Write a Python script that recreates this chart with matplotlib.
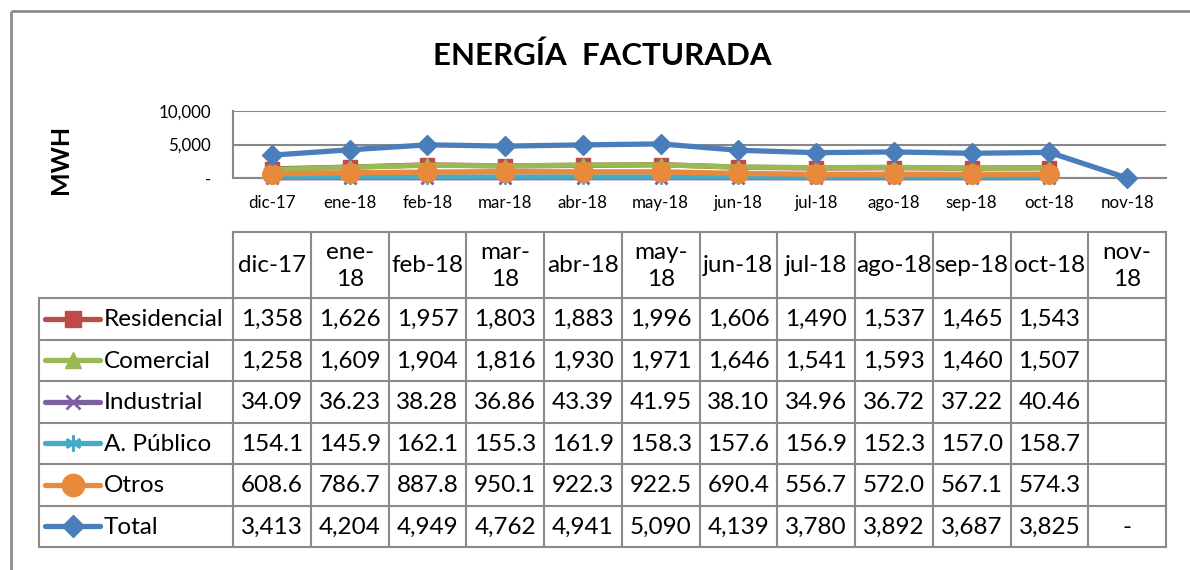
import matplotlib
matplotlib.use("Agg")
import matplotlib.pyplot as plt
from matplotlib.lines import Line2D
from matplotlib.ticker import FuncFormatter

plt.rcParams['font.family'] = ['Lato', 'DejaVu Sans']

months = ["dic-17", "ene-18", "feb-18", "mar-18", "abr-18", "may-18",
          "jun-18", "jul-18", "ago-18", "sep-18", "oct-18", "nov-18"]
header_labels = ["dic-17", "ene-\n18", "feb-18", "mar-\n18", "abr-18", "may-\n18",
                 "jun-18", "jul-18", "ago-18", "sep-18", "oct-18", "nov-\n18"]

residencial = [1358, 1626, 1957, 1803, 1883, 1996, 1606, 1490, 1537, 1465, 1543, None]
comercial = [1258, 1609, 1904, 1816, 1930, 1971, 1646, 1541, 1593, 1460, 1507, None]
industrial = [34.09, 36.23, 38.28, 36.86, 43.39, 41.95, 38.10, 34.96, 36.72, 37.22, 40.46, None]
publico = [154.1, 145.9, 162.1, 155.3, 161.9, 158.3, 157.6, 156.9, 152.3, 157.0, 158.7, None]
otros = [608.6, 786.7, 887.8, 950.1, 922.3, 922.5, 690.4, 556.7, 572.0, 567.1, 574.3, None]
total = [3413, 4204, 4949, 4762, 4941, 5090, 4139, 3780, 3892, 3687, 3825, 0]

series_names = ["Residencial", "Comercial", "Industrial", "A. Público", "Otros", "Total"]
series_values = [residencial, comercial, industrial, publico, otros, total]
series_fmt = ["{:,.0f}", "{:,.0f}", "{:.2f}", "{:.1f}", "{:.1f}", "{:,.0f}"]

colors = ["#BE4B48", "#98B954", "#7D60A0", "#46AAC5", "#E8893B", "#4A7EBB"]
markers = ["s", "^", "x", (6, 2, 0), "o", "D"]
msizes = [10, 10, 9, 10, 14, 10]
mew = [1, 1, 2, 2, 1, 1]

W, H = 1190, 570
fig = plt.figure(figsize=(W / 100, H / 100), dpi=100)

# overlay in pixel coordinates
ov = fig.add_axes([0, 0, 1, 1])
ov.set_xlim(0, W)
ov.set_ylim(H, 0)
ov.axis("off")
ov.patch.set_alpha(0)

# outer chart frame
frame_c = "#8C8C8C"
ov.plot([10.5, W], [10.5, 10.5], color=frame_c, lw=2, solid_capstyle="butt")
ov.plot([10.5, 10.5], [10.5, H], color=frame_c, lw=2, solid_capstyle="butt")

# title and axis title
ov.text(602, 56, "ENERGÍA  FACTURADA", ha="center", va="center",
        fontsize=22.5, fontweight="bold", color="black")
ov.text(61, 159, "MWH", ha="center", va="center", rotation=90,
        fontsize=18, fontweight="bold", color="black")

# plot axes
pl, pr, pt, pb = 233, 1166, 111, 178
ax = fig.add_axes([pl / W, 1 - pb / H, (pr - pl) / W, (pb - pt) / H])
ax.patch.set_alpha(0)
x = list(range(len(months)))
for name, vals, c, m, ms, mw in zip(series_names, series_values, colors, markers, msizes, mew):
    xs = [i for i, v in zip(x, vals) if v is not None]
    ys = [v for v in vals if v is not None]
    ax.plot(xs, ys, color=c, lw=3.8, marker=m, markersize=ms, markeredgewidth=mw,
            markeredgecolor=c, markerfacecolor=c, clip_on=False, zorder=3,
            solid_joinstyle="round")
ax.set_xlim(-0.5, len(months) - 0.5)
ax.set_ylim(0, 10000)
ax.set_yticks([0, 5000, 10000])
ax.yaxis.set_major_formatter(FuncFormatter(lambda v, p: "-" if v == 0 else f"{v:,.0f}"))
ax.set_xticks(x)
ax.set_xticklabels(months)
ax.tick_params(axis="y", length=0, pad=16, labelsize=12.2)
ax.tick_params(axis="x", length=0, pad=12, labelsize=12.2)
ax.grid(axis="y", color="#888888", lw=1.5)
ax.set_axisbelow(True)
for s in ["top", "right"]:
    ax.spines[s].set_visible(False)
for s in ["left", "bottom"]:
    ax.spines[s].set_color("#888888")
    ax.spines[s].set_linewidth(1.5)

# data table
ncol = len(months)
colw = (pr - pl) / ncol
col_edges = [pl + i * colw for i in range(ncol + 1)]
row_edges = [232, 298, 339.5, 381, 422.5, 464, 505.5, 547]
tl = 39
line_c = "#8A8A8A"
tlw = 1.5
# horizontal lines
ov.plot([pl, pr], [row_edges[0], row_edges[0]], color=line_c, lw=tlw)
for y in row_edges[1:]:
    ov.plot([tl, pr], [y, y], color=line_c, lw=tlw)
# vertical lines
for xe in col_edges:
    ov.plot([xe, xe], [row_edges[0], row_edges[-1]], color=line_c, lw=tlw)
ov.plot([tl, tl], [row_edges[1], row_edges[-1]], color=line_c, lw=tlw)

fs = 17.5
for j, lab in enumerate(header_labels):
    cx = (col_edges[j] + col_edges[j + 1]) / 2
    ov.text(cx, (row_edges[0] + row_edges[1]) / 2 + 1, lab, ha="center", va="center",
            fontsize=fs, linespacing=1.3)

for i, (name, vals, fmt, c, m, ms, mw) in enumerate(
        zip(series_names, series_values, series_fmt, colors, markers, msizes, mew)):
    cy = (row_edges[i + 1] + row_edges[i + 2]) / 2
    ov.add_line(Line2D([45, 100], [cy, cy], color=c, lw=3.8, solid_capstyle="round"))
    ov.add_line(Line2D([72.5], [cy], marker=m, markersize=ms * 1.15, color=c,
                       markeredgewidth=mw, markerfacecolor=c, markeredgecolor=c))
    ov.text(104, cy + 1, name, ha="left", va="center", fontsize=fs)
    for j, v in enumerate(vals):
        cx = (col_edges[j] + col_edges[j + 1]) / 2
        if v is None:
            continue
        txt = "-" if v == 0 else fmt.format(v)
        ov.text(cx, cy + 1, txt, ha="center", va="center", fontsize=fs)

fig.savefig("out.png", dpi=100)
